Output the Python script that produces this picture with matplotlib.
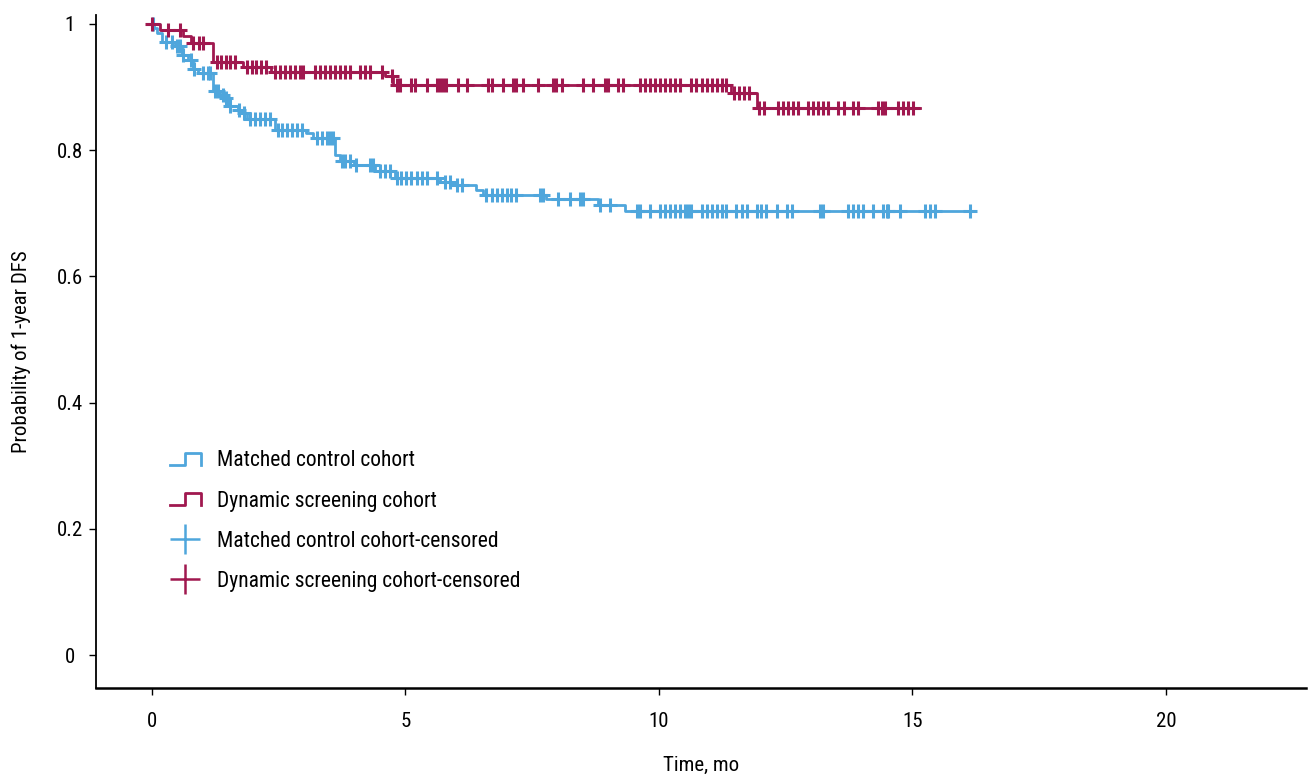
import matplotlib
matplotlib.use("Agg")
import matplotlib.pyplot as plt
from matplotlib.lines import Line2D
from matplotlib.legend_handler import HandlerBase
from matplotlib import font_manager

# pick a condensed font if one is installed
_fams = {(f.name, f.stretch) for f in font_manager.fontManager.ttflist}
_names = {f.name for f in font_manager.fontManager.ttflist}
FONT = None
STRETCH = 'normal'
for cand in ['Liberation Sans Narrow', 'Roboto Condensed', 'Open Sans Condensed',
             'Noto Sans Condensed', 'Arial Narrow']:
    if cand in _names:
        FONT = cand
        break
if FONT is None:
    for nm in ['DejaVu Sans', 'Noto Sans', 'Roboto', 'Open Sans']:
        if any(n == nm and s in ('condensed', 'semi-condensed', 62.5, 75, 87.5)
               for n, s in _fams):
            FONT = nm
            STRETCH = 'condensed'
            break
if FONT is None:
    FONT = 'Liberation Sans'
    FS = 13.5
else:
    FS = 15

plt.rcParams['font.family'] = [FONT, 'DejaVu Sans']
plt.rcParams['font.stretch'] = STRETCH

# ---------------- data ----------------
# Dynamic screening cohort (step function)
dyn_times = [0, 0.16, 0.62, 0.78, 1.21, 1.80, 2.36, 4.60, 4.76, 11.43, 11.93, 15.15]
dyn_surv = [1.0, 0.990, 0.980, 0.969, 0.940, 0.932, 0.924, 0.917, 0.903, 0.890, 0.866, 0.866]
dyn_cens = [0.0, 0.32, 0.55, 0.82, 0.94, 1.01, 1.28, 1.37, 1.47, 1.55, 1.64, 1.87, 1.97,
            2.06, 2.16, 2.26, 2.43, 2.52, 2.62, 2.72, 2.82, 2.92, 2.98, 3.21, 3.31, 3.41,
            3.51, 3.61, 3.71, 3.81, 3.91, 4.10, 4.20, 4.30, 4.53, 4.73, 4.83, 4.89, 5.12,
            5.19, 5.42, 5.62, 5.68, 5.75, 5.81, 6.04, 6.22, 6.63, 6.70, 6.92, 7.13, 7.19,
            7.32, 7.62, 7.92, 7.97, 8.08, 8.51, 8.70, 8.93, 9.00, 9.20, 9.30, 9.63, 9.72,
            9.82, 9.92, 10.02, 10.12, 10.22, 10.32, 10.41, 10.64, 10.74, 10.84, 10.94,
            11.04, 11.14, 11.24, 11.33, 11.48, 11.58, 11.68, 11.78, 11.98, 12.07, 12.35,
            12.45, 12.55, 12.65, 12.75, 12.94, 13.04, 13.14, 13.24, 13.34, 13.54, 13.64,
            13.83, 13.93, 14.33, 14.39, 14.46, 14.72, 14.82, 14.92, 15.02]

# Matched control cohort (step function)
ctl_times = [0, 0.04, 0.10, 0.20, 0.45, 0.59, 0.72, 0.81, 0.91, 1.21, 1.34, 1.44, 1.50,
             1.70, 1.80, 1.87, 2.43, 3.05, 3.18, 3.61, 3.71, 3.98, 4.40, 4.79, 5.68, 5.98,
             6.40, 6.53, 7.78, 8.80, 9.33, 16.23]
ctl_surv = [1.0, 0.993, 0.985, 0.972, 0.965, 0.951, 0.943, 0.929, 0.922, 0.894, 0.888,
            0.882, 0.870, 0.864, 0.858, 0.850, 0.832, 0.827, 0.819, 0.792, 0.782, 0.777,
            0.767, 0.756, 0.750, 0.744, 0.737, 0.729, 0.722, 0.713, 0.704, 0.704]
ctl_cens = [0.02, 0.29, 0.39, 0.49, 0.55, 0.62, 0.78, 0.84, 1.01, 1.11, 1.14, 1.24, 1.31,
            1.41, 1.47, 1.54, 1.72, 1.82, 1.93, 2.03, 2.13, 2.23, 2.33, 2.48, 2.57, 2.67,
            2.77, 2.87, 2.97, 3.25, 3.35, 3.45, 3.51, 3.58, 3.76, 3.81, 3.91, 4.03, 4.30,
            4.36, 4.50, 4.60, 4.69, 4.83, 4.92, 5.02, 5.12, 5.22, 5.32, 5.42, 5.62, 5.78,
            5.88, 6.01, 6.11, 6.60, 6.70, 6.80, 6.90, 7.00, 7.09, 7.19, 7.65, 7.72, 8.01,
            8.24, 8.44, 8.51, 8.84, 9.03, 9.56, 9.63, 9.82, 10.02, 10.12, 10.22, 10.32,
            10.41, 10.51, 10.58, 10.64, 10.84, 10.94, 11.04, 11.14, 11.24, 11.33, 11.53,
            11.63, 11.73, 11.93, 12.02, 12.12, 12.32, 12.52, 12.62, 13.18, 13.24, 13.73,
            13.83, 13.93, 14.03, 14.23, 14.42, 14.49, 14.52, 14.75, 15.25, 15.35, 15.44,
            16.13]

labels = ["Matched control cohort", "Dynamic screening cohort",
          "Matched control cohort-censored", "Dynamic screening cohort-censored"]
xticks = [0, 5, 10, 15, 20]
yticks = [0, 0.2, 0.4, 0.6, 0.8, 1.0]
ytick_labels = ["0", "0.2", "0.4", "0.6", "0.8", "1"]

BLUE = "#4FA6DC"
RED = "#A0184F"


def surv_at(times, surv, t):
    s = surv[0]
    for ti, si in zip(times, surv):
        if ti <= t:
            s = si
        else:
            break
    return s


fig = plt.figure(figsize=(13.11, 7.75), dpi=100)
ax = fig.add_axes([96 / 1311, 87 / 775, 1210 / 1311, 673 / 775])

lw = 2.0
ax.step(ctl_times, ctl_surv, where='post', color=BLUE, lw=lw, zorder=3)
ax.step(dyn_times, dyn_surv, where='post', color=RED, lw=lw, zorder=4)
ax.plot(ctl_cens, [surv_at(ctl_times, ctl_surv, t) for t in ctl_cens], ls='none',
        marker='+', ms=10, mew=2.2, color=BLUE, zorder=3)
ax.plot(dyn_cens, [surv_at(dyn_times, dyn_surv, t) for t in dyn_cens], ls='none',
        marker='+', ms=10, mew=2.2, color=RED, zorder=4)

ax.set_xlim(-1.1, 22.76)
ax.set_ylim(-0.052, 1.014)
ax.set_xticks(xticks)
ax.set_xticklabels([str(v) for v in xticks])
ax.set_yticks(yticks)
ax.set_yticklabels(ytick_labels, ha='center')
for s in ['top', 'right']:
    ax.spines[s].set_visible(False)
ax.spines['left'].set_linewidth(1.3)
ax.spines['bottom'].set_linewidth(1.8)
ax.tick_params(axis='both', direction='out', length=5, width=1, labelsize=FS, colors='black')
ax.tick_params(axis='x', pad=12)
ax.tick_params(axis='y', pad=14)
ax.set_xlabel("Time, mo", fontsize=FS, labelpad=18)
ax.set_ylabel("Probability of 1-year DFS", fontsize=FS, va='center')
ax.yaxis.set_label_coords((21 - 96) / 1210, 0.5)


class StepHandler(HandlerBase):
    def create_artists(self, legend, orig_handle, xdescent, ydescent, width, height,
                       fontsize, trans):
        x0 = -xdescent
        y0 = -ydescent
        lo = y0 + height * 0.1
        hi = y0 + height * 0.9
        xs = [x0, x0 + width * 0.5, x0 + width * 0.5, x0 + width, x0 + width]
        ys = [lo, lo, hi, hi, lo]
        ln = Line2D(xs, ys, color=orig_handle.get_color(), lw=2.0, transform=trans)
        return [ln]


LFS = 15.5
h1 = Line2D([], [], color=BLUE)
h2 = Line2D([], [], color=RED)
h3 = Line2D([], [], color=BLUE, ls='none', marker='+', ms=22, mew=1.8)
h4 = Line2D([], [], color=RED, ls='none', marker='+', ms=22, mew=1.8)
leg = ax.legend([h1, h2, h3, h4], labels, loc='upper left',
                bbox_to_anchor=(0.061, 0.353), frameon=False, fontsize=LFS,
                handler_map={h1: StepHandler(), h2: StepHandler()},
                handlelength=1.45, handletextpad=0.75, labelspacing=0.89,
                borderpad=0, borderaxespad=0)

fig.savefig("out.png", dpi=100)
